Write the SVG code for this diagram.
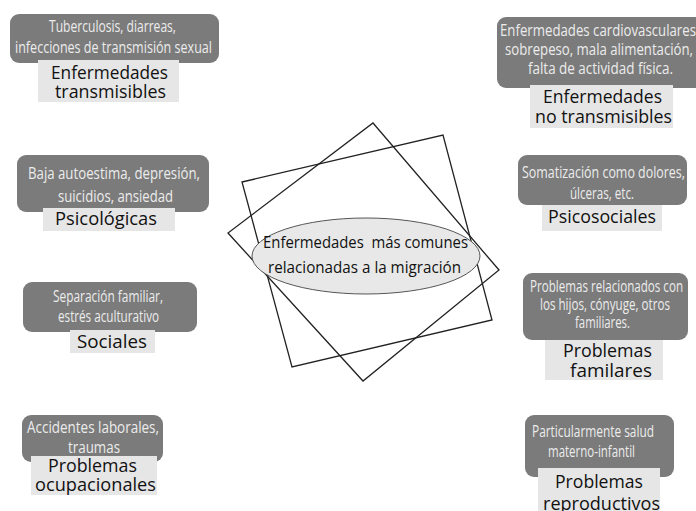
<svg xmlns="http://www.w3.org/2000/svg" width="696" height="511" viewBox="0 0 696 511">
<style>
.box{fill:#7b7b7b}
.lbl{fill:#e6e6e6}
.bt{font-family:"Open Sans","Liberation Sans",sans-serif;font-size:15.5px;fill:#ececec;text-anchor:middle}
.lt{font-family:"Open Sans","Liberation Sans",sans-serif;font-size:18.5px;fill:#111;text-anchor:middle}
.sq{fill:none;stroke:#222;stroke-width:1.3}
.ct{font-family:"Open Sans","Liberation Sans",sans-serif;font-size:17px;fill:#111;text-anchor:middle;white-space:pre}
</style>
<rect width="696" height="511" fill="#fff"/>
<g id="connectors">
<polygon class="sq" points="242,182 443,135 492,320 292,367"/>
<polygon class="sq" points="373,123 499,270 363,381 228,233"/>
</g>
<g id="center">
<ellipse cx="366" cy="256" rx="114" ry="38" fill="#e8e8e8" stroke="#555" stroke-width="1"/>
<text class="ct" x="365.5" y="248" textLength="205" lengthAdjust="spacingAndGlyphs">Enfermedades&#160; más comunes</text>
<text class="ct" x="364.5" y="273" textLength="193" lengthAdjust="spacingAndGlyphs">relacionadas a la migración</text>
</g>
<g id="transmisibles">
<rect class="box" x="10" y="14" width="209" height="49" rx="9"/>
<text class="bt" x="112.5" y="32" textLength="127" lengthAdjust="spacingAndGlyphs">Tuberculosis, diarreas,</text>
<text class="bt" x="113.5" y="53" textLength="197" lengthAdjust="spacingAndGlyphs">infecciones de transmisión sexual</text>
<rect class="lbl" x="38" y="60" width="141" height="42"/>
<text class="lt" x="109.5" y="79" textLength="117" lengthAdjust="spacingAndGlyphs">Enfermedades</text>
<text class="lt" x="110.5" y="98" textLength="111" lengthAdjust="spacingAndGlyphs">transmisibles</text>
</g>
<g id="no-transmisibles">
<rect class="box" x="497" y="17" width="210" height="71" rx="9"/>
<text class="bt" x="598" y="36" textLength="196" lengthAdjust="spacingAndGlyphs">Enfermedades cardiovasculares</text>
<text class="bt" x="599" y="55" textLength="188" lengthAdjust="spacingAndGlyphs">sobrepeso, mala alimentación,</text>
<text class="bt" x="600.5" y="74" textLength="145" lengthAdjust="spacingAndGlyphs">falta de actividad física.</text>
<rect class="lbl" x="530" y="85" width="143" height="43"/>
<text class="lt" x="602.5" y="103" textLength="119" lengthAdjust="spacingAndGlyphs">Enfermedades</text>
<text class="lt" x="603.5" y="123" textLength="137" lengthAdjust="spacingAndGlyphs">no transmisibles</text>
</g>
<g id="psicologicas">
<rect class="box" x="17" y="155" width="192" height="57" rx="9"/>
<text class="bt" x="114" y="179" textLength="172" lengthAdjust="spacingAndGlyphs">Baja autoestima, depresión,</text>
<text class="bt" x="115.5" y="202" textLength="115" lengthAdjust="spacingAndGlyphs">suicidios, ansiedad</text>
<rect class="lbl" x="43" y="208" width="132" height="23"/>
<text class="lt" x="106" y="225" textLength="102" lengthAdjust="spacingAndGlyphs">Psicológicas</text>
</g>
<g id="sociales">
<rect class="box" x="23" y="282" width="174" height="50" rx="9"/>
<text class="bt" x="108" y="302" textLength="110" lengthAdjust="spacingAndGlyphs">Separación familiar,</text>
<text class="bt" x="108.5" y="322" textLength="101" lengthAdjust="spacingAndGlyphs">estrés aculturativo</text>
<rect class="lbl" x="70" y="330" width="85" height="23"/>
<text class="lt" x="112" y="348" textLength="70" lengthAdjust="spacingAndGlyphs">Sociales</text>
</g>
<g id="psicosociales">
<rect class="box" x="518" y="155" width="169" height="50" rx="9"/>
<text class="bt" x="603.5" y="178" textLength="163" lengthAdjust="spacingAndGlyphs">Somatización como dolores,</text>
<text class="bt" x="602" y="199" textLength="64" lengthAdjust="spacingAndGlyphs">úlceras, etc.</text>
<rect class="lbl" x="542" y="205" width="120" height="26"/>
<text class="lt" x="602" y="223" textLength="108" lengthAdjust="spacingAndGlyphs">Psicosociales</text>
</g>
<g id="familiares">
<rect class="box" x="523" y="273" width="165" height="67" rx="9"/>
<text class="bt" x="606.5" y="292" textLength="153" lengthAdjust="spacingAndGlyphs">Problemas relacionados con</text>
<text class="bt" x="605" y="310" textLength="130" lengthAdjust="spacingAndGlyphs">los hijos, cónyuge, otros</text>
<text class="bt" x="602.5" y="328" textLength="55" lengthAdjust="spacingAndGlyphs">familiares.</text>
<rect class="lbl" x="545" y="340" width="118" height="40"/>
<text class="lt" x="607.5" y="357" textLength="89" lengthAdjust="spacingAndGlyphs">Problemas</text>
<text class="lt" x="611" y="377" textLength="82" lengthAdjust="spacingAndGlyphs">familares</text>
</g>
<g id="ocupacionales">
<rect class="box" x="22" y="415" width="141" height="47" rx="9"/>
<text class="bt" x="93" y="433" textLength="132" lengthAdjust="spacingAndGlyphs">Accidentes laborales,</text>
<text class="bt" x="94" y="453" textLength="52" lengthAdjust="spacingAndGlyphs">traumas</text>
<rect class="lbl" x="31" y="456" width="126" height="39"/>
<text class="lt" x="92.5" y="472" textLength="89" lengthAdjust="spacingAndGlyphs">Problemas</text>
<text class="lt" x="95.5" y="491" textLength="121" lengthAdjust="spacingAndGlyphs">ocupacionales</text>
</g>
<g id="reproductivos">
<rect class="box" x="525" y="415" width="149" height="62" rx="9"/>
<text class="bt" x="593" y="437" textLength="122" lengthAdjust="spacingAndGlyphs">Particularmente salud</text>
<text class="bt" x="591.5" y="457" textLength="87" lengthAdjust="spacingAndGlyphs">materno-infantil</text>
<rect class="lbl" x="538" y="468" width="122" height="43"/>
<text class="lt" x="599" y="488" textLength="88" lengthAdjust="spacingAndGlyphs">Problemas</text>
<text class="lt" x="601.5" y="510" textLength="117" lengthAdjust="spacingAndGlyphs">reproductivos</text>
</g>
</svg>
